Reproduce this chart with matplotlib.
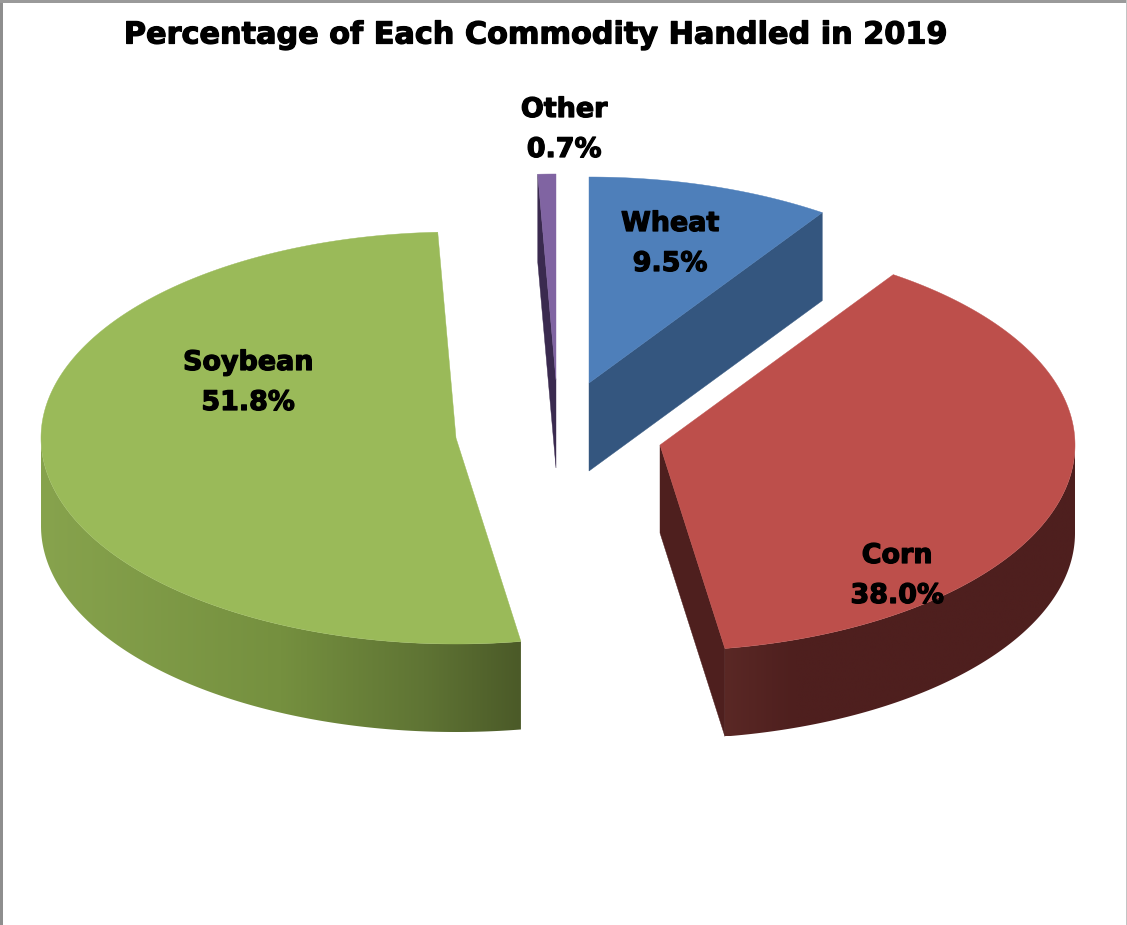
import numpy as np
import matplotlib
matplotlib.use("Agg")
import matplotlib.pyplot as plt
import matplotlib.patheffects as pe
from matplotlib.colors import to_rgb
from matplotlib.patches import PathPatch, Polygon, Rectangle
from matplotlib.path import Path

# Commodity shares, in clockwise order from twelve o'clock
commodities = ["Wheat", "Corn", "Soybean", "Other"]
shares = [9.5, 38.0, 51.8, 0.7]

title_text = "Percentage of Each Commodity Handled in 2019"

# Per-slice styling
top_colors = {"Wheat": "#4e7fba", "Corn": "#bd4f4b", "Soybean": "#9aba59", "Other": "#8064a2"}
side_colors = {"Wheat": "#34567f", "Corn": "#4e1f1e", "Soybean": "#6d8a3c", "Other": "#3a2a4f"}
apexes = {"Wheat": (589, 383), "Corn": (660, 445), "Soybean": (456, 438), "Other": (556, 380)}
label_anchors = {"Wheat": (670, 244), "Corn": (897, 576), "Soybean": (248, 383), "Other": (564, 130)}

# Outer wall shading as (x fraction across the wall, colour)
wall_gradients = {
    "Soybean": [(0.0, "#87a34d"), (0.5, "#75903f"), (0.8, "#5f7434"), (1.0, "#4b5a28")],
    "Corn": [(0.0, "#5a2825"), (0.2, "#4e1f1e"), (1.0, "#4e1f1e")],
}

RX, RY = 415, 206   # ellipse radii of the tilted disc
DEPTH = 88          # disc thickness on screen
WIDTH, HEIGHT = 1127, 925

fig = plt.figure(figsize=(WIDTH / 100, HEIGHT / 100), dpi=100, facecolor="white")
ax = fig.add_axes([0, 0, 1, 1])


def rim(apex, theta):
    return apex[0] + RX * np.cos(theta), apex[1] - RY * np.sin(theta)


def draw_wall(name, apex, t_from, t_to):
    """Outer wall between two angles, on the front half of the disc."""
    t = np.linspace(t_from, t_to, 200)
    x, y = rim(apex, t)
    verts = np.vstack([np.column_stack([x, y]),
                       np.column_stack([x[::-1], y[::-1] + DEPTH])])
    patch = PathPatch(Path(np.vstack([verts, verts[0]]), closed=True), fc="none", ec="none")
    ax.add_patch(patch)
    stops = wall_gradients[name]
    xs = np.linspace(0, 1, 300)
    ramp = np.column_stack([
        np.interp(xs, [s[0] for s in stops], [to_rgb(s[1])[i] for s in stops])
        for i in range(3)
    ])[np.newaxis, :, :]
    im = ax.imshow(ramp, extent=(x.min(), x.max(), y.max() + DEPTH, y.min()),
                   aspect="auto", zorder=2, interpolation="bilinear")
    im.set_clip_path(patch)


cum = np.cumsum([0] + shares)
for i, name in enumerate(commodities):
    start = np.deg2rad(90 - 3.6 * cum[i])
    stop = np.deg2rad(90 - 3.6 * cum[i + 1])
    apex = apexes[name]
    t = np.linspace(start, stop, 300)
    px, py = rim(apex, t)
    side = side_colors[name]

    if name == "Wheat":
        # trailing cut face shows below the top surface
        ex, ey = rim(apex, stop)
        ax.add_patch(Polygon([apex, (ex, ey), (ex, ey + DEPTH), (apex[0], apex[1] + DEPTH)],
                             fc=side, ec=side, lw=0.3, zorder=2))
    elif name == "Corn":
        ex, ey = rim(apex, stop)
        ax.add_patch(Polygon([apex, (ex, ey), (ex, ey + DEPTH), (apex[0], apex[1] + DEPTH)],
                             fc=side, ec=side, lw=0.3, zorder=2))
        draw_wall(name, apex, stop, 0.0)
    elif name == "Soybean":
        draw_wall(name, apex, start + 0, -np.pi)
    elif name == "Other":
        # leading cut face is the one turned toward the viewer here
        sx, sy = rim(apex, start)
        ax.add_patch(Polygon([apex, (sx, sy), (sx, sy + DEPTH), (apex[0], apex[1] + DEPTH)],
                             fc=side, ec=side, lw=0.3, zorder=2))

    ax.add_patch(Polygon(np.vstack([[apex], np.column_stack([px, py])]),
                         fc=top_colors[name], ec=top_colors[name], lw=0.3, zorder=3))

    lx, ly = label_anchors[name]
    ax.text(lx, ly, f"{name}\n{shares[i]:.1f}%", ha="center", va="center", fontsize=19.4,
            fontweight="bold", family="DejaVu Sans", color="black", linespacing=1.7,
            zorder=5, path_effects=[pe.withStroke(linewidth=0.9, foreground="black")])

ax.text(534.5, 35, title_text, ha="center", va="center", fontsize=21.8, fontweight="bold",
        family="DejaVu Sans", color="black", zorder=5,
        path_effects=[pe.withStroke(linewidth=0.9, foreground="black")])

# Chart-area frame: darker on the left and top, pale on the right
ax.add_patch(Rectangle((0, 0), 2.5, HEIGHT, fc="#8e8e8e", ec="none", zorder=6))
ax.add_patch(Rectangle((0, 0), WIDTH, 2.5, fc="#9a9a9a", ec="none", zorder=6))
ax.add_patch(Rectangle((WIDTH - 1.5, 0), 1.5, HEIGHT, fc="#c4c4c4", ec="none", zorder=6))

ax.set_xlim(0, WIDTH)
ax.set_ylim(HEIGHT, 0)
ax.axis("off")

fig.savefig("out.png", dpi=100, facecolor="white")
